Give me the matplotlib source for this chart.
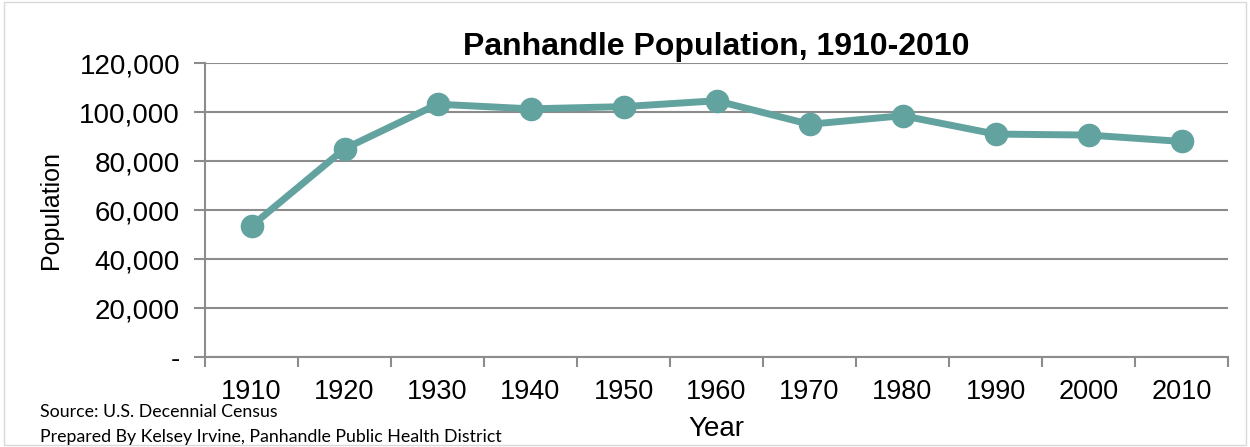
import matplotlib
matplotlib.use('Agg')
import matplotlib.pyplot as plt
from matplotlib.ticker import FuncFormatter, FixedLocator, NullFormatter
from matplotlib.patches import Rectangle

years = ['1910', '1920', '1930', '1940', '1950', '1960',
         '1970', '1980', '1990', '2000', '2010']
population = [53500, 85000, 103200, 101300, 102200, 104600,
              95000, 98500, 91000, 90600, 88000]

line_col = '#63a39f'
grid_col = '#8c8c8c'

plt.rcParams['font.family'] = ['Liberation Sans', 'DejaVu Sans']

fig = plt.figure(figsize=(12.5, 4.47), dpi=100)
ax = fig.add_axes([0.164, 0.2013, 0.8184, 0.6577])

x = list(range(len(years)))
ax.plot(x, population, color=line_col, lw=5, marker='o', ms=16,
        mec=line_col, mfc=line_col, solid_capstyle='round', zorder=3)

ax.set_xlim(-0.5, len(years) - 0.5)
ax.set_ylim(0, 120000)
ax.set_yticks(range(0, 120001, 20000))
ax.yaxis.set_major_formatter(FuncFormatter(lambda v, p: '-' if v == 0 else f'{int(v):,}'))
ax.grid(True, axis='y', color=grid_col, lw=1.5)
ax.set_axisbelow(True)

# category labels centred, tick marks on category boundaries
ax.set_xticks(x)
ax.set_xticklabels(years)
ax.tick_params(axis='x', which='major', length=0, pad=16, labelsize=19.5)
ax.xaxis.set_minor_locator(FixedLocator([i - 0.5 for i in range(len(years) + 1)]))
ax.xaxis.set_minor_formatter(NullFormatter())
ax.tick_params(axis='x', which='minor', length=7, width=1.5, color=grid_col, direction='out')
ax.tick_params(axis='y', length=8, width=1.5, color=grid_col, labelsize=20, pad=10)

for s in ['top', 'right']:
    ax.spines[s].set_visible(False)
for s in ['left', 'bottom']:
    ax.spines[s].set_color(grid_col)
    ax.spines[s].set_linewidth(1.5)

ax.set_ylabel('Population', fontsize=18, labelpad=12)
ax.set_xlabel('Year', fontsize=20, labelpad=8)
ax.set_title('Panhandle Population, 1910-2010', fontsize=23, fontweight='bold', pad=6)

fig.text(0.032, 0.078, 'Source: U.S. Decennial Census', fontsize=12.8,
         family=['Lato', 'DejaVu Sans'], va='center')
fig.text(0.032, 0.022, 'Prepared By Kelsey Irvine, Panhandle Public Health District',
         fontsize=12.8, family=['Lato', 'DejaVu Sans'], va='center')

fig.patches.append(Rectangle((0.003, 0.005), 0.994, 0.99, transform=fig.transFigure,
                             fill=False, ec='#d9d9d9', lw=1))

fig.savefig('out.png', dpi=100)
